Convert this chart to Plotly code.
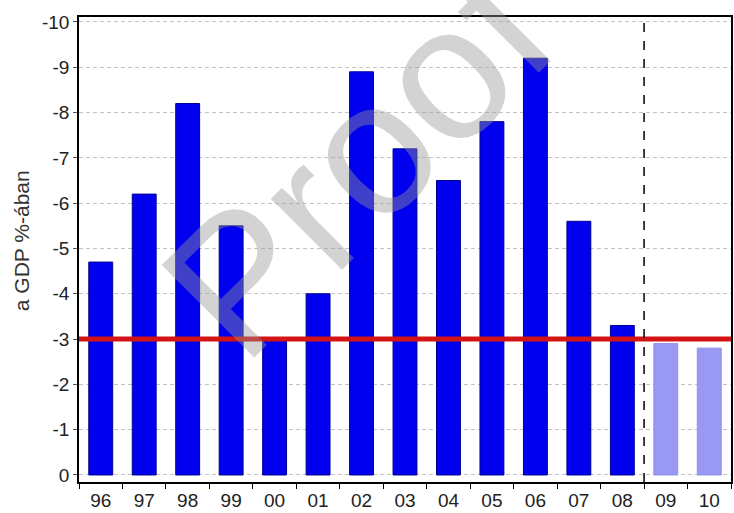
import plotly.graph_objects as go

# Budget balance, % of GDP (negative = deficit)
years = ["96", "97", "98", "99", "00", "01", "02", "03", "04", "05", "06", "07", "08", "09", "10"]
balance = [-4.7, -6.2, -8.2, -5.5, -3.0, -4.0, -8.9, -7.2, -6.5, -7.8, -9.2, -5.6, -3.3, -2.9, -2.8]
forecast_years = ["09", "10"]
maastricht_limit = -3.0
y_tick_values = [0, -1, -2, -3, -4, -5, -6, -7, -8, -9, -10]
y_tick_labels = ["0", "-1", "-2", "-3", "-4", "-5", "-6", "-7", "-8", "-9", "-10"]
y_title = "a GDP %-ában"

ACTUAL = "#0000ee"
FORECAST = "#9999f5"
fill = [FORECAST if y in forecast_years else ACTUAL for y in years]
edge = ["#8f8fe8" if y in forecast_years else "#000090" for y in years]

FONT = "Liberation Sans, Arial, sans-serif"

fig = go.Figure()
fig.add_trace(go.Bar(
    x=years, y=balance,
    marker=dict(color=fill, line=dict(color=edge, width=1)),
    width=0.55,
    hoverinfo="x+y",
))

# 3% deficit reference line
fig.add_shape(type="line", xref="paper", x0=0, x1=1, yref="y",
              y0=maastricht_limit, y1=maastricht_limit,
              line=dict(color="#d41414", width=5), layer="above")

# divider between actual data and forecast
first_fc = years.index(forecast_years[0])
fig.add_shape(type="line", xref="x", x0=first_fc - 0.5, x1=first_fc - 0.5,
              yref="paper", y0=0, y1=1,
              line=dict(color="black", width=1.5, dash="dash"), layer="above")

# vertical axis title
fig.add_annotation(text=y_title, xref="paper", yref="paper", x=-0.089, y=0.52,
                   xanchor="center", yanchor="middle", showarrow=False,
                   textangle=-90, font=dict(family=FONT, size=21, color="#333"))

# watermark
fig.add_annotation(text="Proof", xref="paper", yref="paper", x=0.427, y=0.69,
                   xanchor="center", yanchor="middle",
                   showarrow=False, textangle=-45,
                   font=dict(family=FONT, size=190, color="rgba(150,150,150,0.42)"))

fig.update_layout(
    width=734, height=513,
    margin=dict(l=79, r=3, t=17, b=31, autoexpand=False),
    paper_bgcolor="white", plot_bgcolor="white",
    showlegend=False,
    font=dict(family=FONT, size=19, color="#222"),
)
fig.update_xaxes(
    type="category", tickson="boundaries", ticks="outside", ticklen=5,
    tickcolor="black", showline=True, linecolor="black", linewidth=1.5,
    mirror=True, showgrid=False, tickfont=dict(size=19), automargin=False,
)
fig.update_yaxes(
    range=[0.155, -10.11], tickvals=y_tick_values, ticktext=y_tick_labels,
    ticks="outside", ticklen=4, tickcolor="#555",
    showline=True, linecolor="black", linewidth=1.5, mirror=True,
    showgrid=True, gridcolor="#c4c4c4", gridwidth=1, griddash="4px,3px",
    zeroline=False, tickfont=dict(size=19), automargin=False,
)

fig.write_html("out.html")
